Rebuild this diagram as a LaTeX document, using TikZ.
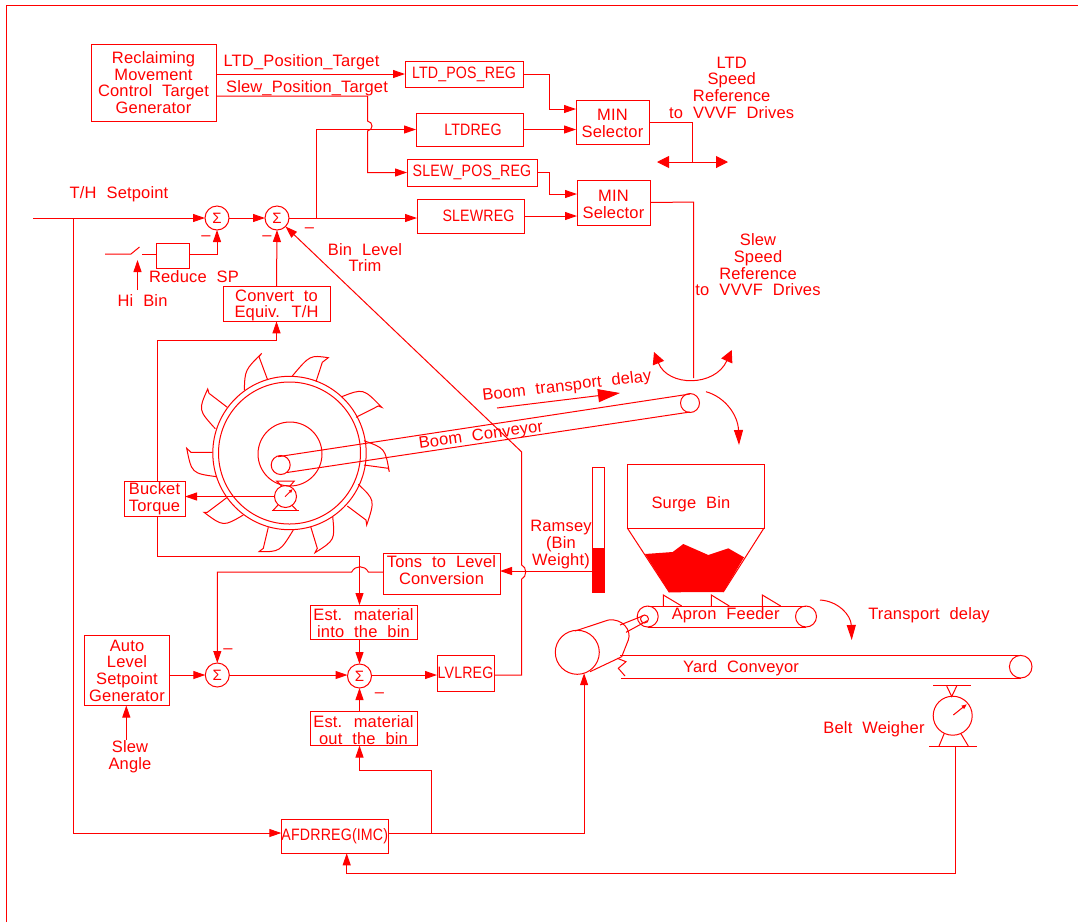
\documentclass[tikz,border=0pt]{standalone}
\usepackage{tikz}
\usepackage{xcolor}
\usepackage{fontspec}
\setmainfont[LetterSpace=1,WordSpace=2.1]{Liberation Sans}
\newfontface\capFace[FakeStretch=0.86,LetterSpace=1]{Liberation Sans}
\definecolor{cadRed}{HTML}{FF0000}
\newcommand{\cadFont}{\fontsize{16.5}{16.7}\selectfont}
\newcommand{\padTop}{\rule{0pt}{14.5pt}}
\newcommand{\padLow}{\rule[-7pt]{0pt}{7pt}}
\usetikzlibrary{arrows.meta}
\tikzset{
  cadLine/.style={draw=cadRed, line width=1pt},
  blockBox/.style={cadLine, text=cadRed, font=\cadFont, align=center, inner sep=0pt, outer sep=0pt},
  capBox/.style={blockBox, font=\cadFont\capFace},
  sumNode/.style={cadLine, circle, text=cadRed, font=\fontsize{15}{15}\selectfont, minimum size=24pt, inner sep=0pt, outer sep=0pt},
  cadText/.style={text=cadRed, font=\cadFont, align=center, inner sep=0pt},
  flow/.style={cadLine, -{Triangle[length=12pt,width=8pt]}},
  bigFlow/.style={cadLine, -{Triangle[length=15pt,width=9pt]}},
  dualFlow/.style={cadLine, {Triangle[length=12pt,width=12pt]}-{Triangle[length=12pt,width=12pt]}},
  plainFlow/.style={cadLine}
}

\begin{document}
\begin{tikzpicture}[x=1pt,y=-1pt]
  \useasboundingbox (0,0) rectangle (1078,922);
  \draw[cadLine] (6,922) -- (6,5) -- (1078,5);

  \node[blockBox, minimum width=125pt, minimum height=77pt] (reclaim) at (153.5,82.5) {Reclaiming\\Movement\\Control Target\\Generator};
  \node[capBox, minimum width=118pt, minimum height=26pt] (ltdPos) at (464,74) {LTD\_POS\_REG};
  \node[capBox, minimum width=107pt, minimum height=33pt] (ltdReg) at (469.5,129.5) {\hspace*{7pt}LTDREG};
  \node[capBox, minimum width=130pt, minimum height=27pt] (slewPos) at (472,172.5) {SLEW\_POS\_REG};
  \node[capBox, minimum width=107pt, minimum height=34pt] (slewReg) at (470.5,216) {\hspace*{16pt}SLEWREG};
  \node[blockBox, minimum width=73pt, minimum height=44pt] (minOne) at (612.5,122) {\padTop MIN\\Selector};
  \node[blockBox, minimum width=73pt, minimum height=45pt] (minTwo) at (613.5,202.5) {\padTop MIN\\Selector};
  \node[blockBox, minimum width=33pt, minimum height=25pt] (reduceBox) at (172.5,255.5) {};
  \node[blockBox, minimum width=107pt, minimum height=34pt] (convertBox) at (276.5,304) {\padTop Convert to\\Equiv. T/H};
  \node[blockBox, minimum width=61pt, minimum height=35pt] (bucketBox) at (154.5,498.5) {Bucket\\Torque};
  \node[blockBox, minimum width=117pt, minimum height=41pt] (tonsBox) at (441.5,573.5) {Tons to Level\\Conversion\padLow};
  \node[blockBox, minimum width=107pt, minimum height=34pt] (estIn) at (363.5,622) {\padTop Est. material\\into the bin};
  \node[blockBox, minimum width=85pt, minimum height=70pt] (autoBox) at (127,670.5) {Auto\\Level\\Setpoint\\Generator};
  \node[capBox, minimum width=57pt, minimum height=36pt] (lvlReg) at (465.5,673.3) {LVLREG};
  \node[blockBox, minimum width=107pt, minimum height=34pt] (estOut) at (363.5,728.5) {\padTop Est. material\\out the bin};
  \node[capBox, minimum width=107pt, minimum height=34pt] (afdrReg) at (334.8,836.3) {AFDRREG(IMC)};

  \node[sumNode] (sumOne) at (217,218) {Σ};
  \node[sumNode] (sumTwo) at (277,218) {Σ};
  \node[sumNode] (sumThree) at (217.3,675) {Σ};
  \node[sumNode] (sumFour) at (359.5,676) {Σ};

  \node[cadText] (minusOne) at (206,238) {–};
  \node[cadText] (minusTwo) at (267,238) {–};
  \node[cadText] (minusThree) at (309.5,230) {–};
  \node[cadText] (minusFour) at (228,651) {–};
  \node[cadText] (minusFive) at (379.5,695) {–};

  \node[cadText] (ltdTargetText) at (301.5,62) {LTD\_Position\_Target};
  \node[cadText] (slewTargetText) at (307,88) {Slew\_Position\_Target};
  \node[cadText] (setpointText) at (119,194) {T/H Setpoint};
  \node[cadText] (reduceText) at (194,277) {Reduce SP};
  \node[cadText] (hiBinText) at (142.5,301) {Hi Bin};
  \node[cadText] (trimText) at (365,257.5) {Bin Level\\Trim};
  \node[cadText] (ltdRefText) at (731.7,87.5) {LTD\\Speed\\Reference\\to VVVF Drives};
  \node[cadText] (slewRefText) at (758,265) {Slew\\Speed\\Reference\\to VVVF Drives};
  \node[cadText, rotate=6.6] (boomDelayText) at (567,386.5) {Boom transport delay};
  \node[cadText, rotate=8] (boomText) at (481,436) {Boom Conveyor};
  \node[cadText] (ramseyText) at (561,544.5) {Ramsey\\(Bin\\Weight)};
  \node[cadText] (surgeText) at (691,504.5) {Surge Bin};
  \node[cadText] (apronText) at (725.7,615.5) {Apron Feeder};
  \node[cadText] (transportText) at (929,615) {Transport delay};
  \node[cadText] (yardText) at (741,668.5) {Yard Conveyor};
  \node[cadText] (weigherText) at (874,729.5) {Belt Weigher};
  \node[cadText] (slewAngleText) at (130,757) {Slew\\Angle};

  \coordinate (slewBend) at (367.5,96);
  \coordinate (slewJumpA) at (367.5,121);
  \coordinate (slewJumpB) at (367.5,131);
  \coordinate (ltdBend) at (549.5,109);
  \coordinate (slewPosBend) at (549.5,194);
  \coordinate (sumTap) at (316.5,218);
  \coordinate (thStart) at (33,218);
  \coordinate (thTap) at (73,218);
  \coordinate (afdrIn) at (281.3,833);
  \coordinate (afdrOut) at (388.3,833);
  \coordinate (afdrTap) at (431,833);
  \coordinate (ltdOut) at (692,122);
  \coordinate (ltdDrive) at (692,162);
  \coordinate (ltdLeft) at (657,162);
  \coordinate (ltdRight) at (728,162);
  \coordinate (slewOut) at (693.7,202);
  \coordinate (slewDrive) at (693.7,378);
  \coordinate (slewLeft) at (654,352);
  \coordinate (slewRight) at (731.7,350);
  \coordinate (switchIn) at (105,254);
  \coordinate (switchHinge) at (131,254);
  \coordinate (switchTip) at (139.5,247);
  \coordinate (switchOut) at (142,254);
  \coordinate (hiBinFoot) at (137.5,290);
  \coordinate (hiBinHead) at (137.5,260);
  \coordinate (torqueTop) at (157.7,340);
  \coordinate (torqueLow) at (157.7,556.7);
  \coordinate (ramseyTap) at (592.3,571);
  \coordinate (tonsJumpA) at (368.3,572);
  \coordinate (tonsJumpB) at (351.7,572);
  \coordinate (trimCorner) at (521.7,675);
  \coordinate (trimJumpA) at (521.7,579);
  \coordinate (trimJumpB) at (521.7,565);
  \coordinate (trimBend) at (521.7,452);
  \coordinate (slewAngleFoot) at (126.3,740);
  \coordinate (estBend) at (431,770.3);
  \coordinate (weigherFoot) at (955.3,746);
  \coordinate (weigherLow) at (955.3,873);
  \coordinate (feedbackEnd) at (346.7,873);

  \draw[flow] (reclaim.east |- ltdPos.west) -- (ltdPos.west);
  \draw[flow] (reclaim.east |- slewBend) -- (slewBend) -- (slewJumpA) .. controls (373.5,122) and (373.5,130) .. (slewJumpB) |- (slewPos.west);
  \draw[flow] (sumTap) |- (ltdReg.west);
  \draw[flow] (sumTwo.east) -- (slewReg.west |- sumTwo.east);
  \draw[flow] (ltdPos.east) -| (ltdBend) -- (minOne.west |- ltdBend);
  \draw[flow] (ltdReg.east) -- (minOne.west |- ltdReg.east);
  \draw[flow] (slewPos.east) -| (slewPosBend) -- (minTwo.west |- slewPosBend);
  \draw[flow] (slewReg.east) -- (minTwo.west |- slewReg.east);
  \draw[plainFlow] (minOne.east) -- (ltdOut) -- (ltdDrive);
  \draw[dualFlow] (ltdLeft) -- (ltdRight);
  \draw[plainFlow] (minTwo.east) -- (slewOut) -- (slewDrive);
  \draw[dualFlow] (slewLeft) .. controls (668,387) and (715,387) .. (slewRight);
  \draw[flow] (thStart) -- (sumOne.west);
  \draw[flow] (sumOne.east) -- (sumTwo.west);
  \draw[flow] (thTap) |- (afdrIn);
  \draw[plainFlow] (switchIn) -- (switchHinge) -- (switchTip);
  \draw[plainFlow] (switchOut) -- (reduceBox.west |- switchOut);
  \draw[flow] (reduceBox.east |- switchOut) -| (sumOne.south);
  \draw[flow] (hiBinFoot) -- (hiBinHead);
  \draw[flow] (convertBox.north) -- (sumTwo.south);
  \draw[flow] (bucketBox.north -| torqueTop) -- (torqueTop) -| (convertBox.south);
  \draw[flow] (bucketBox.south -| torqueLow) -- (torqueLow) -| (estIn.north -| sumFour.north);
  \draw[flow] (tonsBox.west |- tonsJumpA) -- (tonsJumpA) .. controls (365,565) and (355,565) .. (tonsJumpB) -| (sumThree.north);
  \draw[flow] (ramseyTap) -- (tonsBox.east |- ramseyTap);
  \draw[flow] (autoBox.east |- sumThree.west) -- (sumThree.west);
  \draw[flow] (sumThree.east) -- (sumFour.west |- sumThree.east);
  \draw[flow] (estIn.south -| sumFour.north) -- (sumFour.north);
  \draw[flow] (estOut.north -| sumFour.south) -- (sumFour.south);
  \draw[flow] (sumFour.east |- sumThree.east) -- (lvlReg.west |- sumThree.east);
  \draw[flow] (lvlReg.east |- trimCorner) -- (trimCorner) -- (trimJumpA) .. controls (527,577) and (527,567) .. (trimJumpB) -- (trimBend) -- (sumTwo.-45);
  \draw[flow] (slewAngleFoot) -- (autoBox.south -| slewAngleFoot);
  \draw[flow] (afdrTap) |- (estBend) -| (estOut.south -| sumFour.south);
  \draw[flow] (weigherFoot) -- (weigherLow) -| (afdrReg.south -| feedbackEnd);

  \node[cadLine, circle, minimum size=22pt, inner sep=0pt, outer sep=0pt] (torqueGauge) at (285.5,496.5) {};
  \draw[flow] (torqueGauge.west) -- (bucketBox.east |- torqueGauge.west);
  \node[cadLine, circle, minimum size=44pt, inner sep=0pt, outer sep=0pt] (motorDrum) at (577.3,652.3) {};
  \draw[flow] (afdrOut) -| (motorDrum.-72.3);

  \draw[cadLine] (289.5,453) circle (76.7);
  \draw[cadLine] (289.5,453) circle (71);
  \draw[cadLine] (290,454) circle (32);
  \draw[cadLine] (280.7,465) circle (9.5);
  \draw[cadLine] (690,403) circle (9.5);
  \draw[cadLine] (278,456.7) -- (690,394);
  \draw[cadLine] (287,472.5) -- (690,412);

  \draw[cadLine] (267.7,380) -- (259,356.7) -- (261.7,353.3) .. controls (245,370) .. (244.3,390);
  \draw[cadLine] (316,381.7) -- (322.3,362.3) -- (328.3,357.7) .. controls (310,355) .. (292.3,376);
  \draw[cadLine] (356,417.3) -- (378.3,406) -- (381.7,407.3) .. controls (363.3,388.3) .. (341.7,396.7);
  \draw[cadLine] (364,465) -- (388.3,468.3) -- (389.3,471.7) .. controls (385,448.3) .. (364,440.7);
  \draw[cadLine] (347.3,506) -- (366,520) -- (366.7,525) .. controls (375,500) .. (358.3,484.3);
  \draw[cadLine] (310.7,526.7) -- (317.3,548.3) -- (315,552.7) .. controls (335,540) .. (332.7,516.7);
  \draw[cadLine] (268.3,527.3) -- (263.3,548.3) -- (259,551.7) .. controls (280,551.7) .. (293.3,530);
  \draw[cadLine] (226.7,497.7) -- (207.3,512.3) -- (204,512.3) .. controls (223.3,526.7) .. (243.3,515);
  \draw[cadLine] (212.7,452.3) -- (191,452.3) -- (186.7,448.3) .. controls (191.7,473.3) .. (216.7,476.7);
  \draw[cadLine] (227.3,407.3) -- (209,393.3) -- (207.7,389) .. controls (198.3,410) .. (215.3,428.7);

  \draw[cadLine] (281.7,486) -- (276.7,481) -- (294.3,481) -- (290,486);
  \draw[cadLine] (278,505) -- (273,510.5);
  \draw[cadLine] (291.7,505) -- (297,510.5);
  \draw[cadLine] (271.7,510.5) -- (299,510.5);
  \draw[cadLine, -{Triangle[length=4pt,width=3pt]}] (285,496.7) -- (292.7,489);

  \draw[cadLine, -{Triangle[length=22pt,width=13pt]}] (497,408) -- (620,393);
  \draw[bigFlow] (706,391.7) .. controls (725,397) and (738,415) .. (739,445);

  \draw[cadLine] (592.3,467.3) rectangle (604.7,592.7);
  \fill[cadRed] (592.3,548.3) rectangle (604.7,592.7);

  \draw[cadLine] (627.3,464) rectangle (764,528);
  \draw[cadLine] (627.3,528) -- (669.3,592.3);
  \draw[cadLine] (764,528) -- (723.3,592);
  \fill[cadRed] (645,554) -- (672.7,552) -- (683.3,544) -- (708.3,555) -- (728.3,548.3) -- (744,557.3) -- (723.3,592) -- (669.3,592.3) -- cycle;

  \draw[cadLine] (647.7,616.5) circle (10.5);
  \draw[cadLine] (806,616.5) circle (10.5);
  \draw[cadLine] (647.7,606) -- (806,606);
  \draw[cadLine] (647.7,627) -- (806,627);
  \draw[cadLine] (663.3,606) -- (663.3,595) -- (681.7,606);
  \draw[cadLine] (711.3,606) -- (711.3,595) -- (729.3,606);
  \draw[cadLine] (762.3,606) -- (762.3,595) -- (780.7,606);

  \draw[cadLine] (575,631) -- (608.3,620) .. controls (622,618) and (632,630) .. (628.3,640) -- (621.7,656.7) -- (590,671.7);
  \draw[cadLine] (620,625) -- (643.3,615.7);
  \draw[cadLine] (626,632.3) -- (647.3,620.7);
  \draw[cadLine] (644.5,619) circle (4);

  \draw[cadLine] (620,655) -- (1021,655);
  \draw[cadLine] (621,678.3) -- (1021,678.3);
  \draw[cadLine] (1020.7,666.7) circle (11.3);
  \draw[cadLine] (617.3,658.3) -- (626,661.7) -- (618.3,668.3) -- (625,676);

  \draw[bigFlow] (820,600) .. controls (838,601) and (851,615) .. (851.7,640);

  \draw[cadLine] (952.7,715.7) circle (19.5);
  \draw[cadLine] (933.3,685.7) -- (971,685.7);
  \draw[cadLine] (946.7,686) -- (951.7,696.5) -- (956.7,686);
  \draw[cadLine] (929,746) -- (976.7,746);
  \draw[cadLine] (944.3,733.3) -- (939,746);
  \draw[cadLine] (960.7,733.3) -- (968.3,746);
  \draw[cadLine, -{Triangle[length=5pt,width=4pt]}] (953.3,715) -- (966.7,704.3);
\end{tikzpicture}
\end{document}
